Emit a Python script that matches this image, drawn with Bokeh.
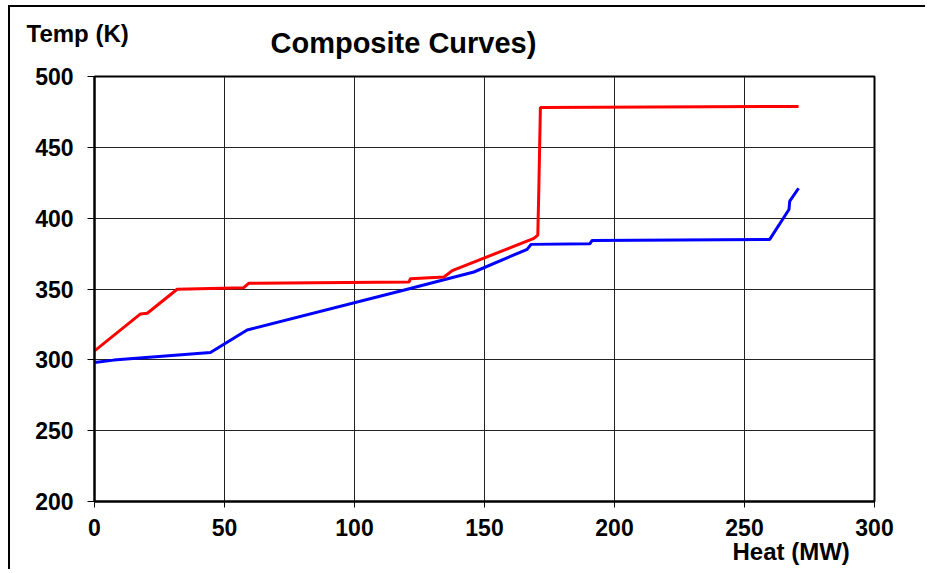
from bokeh.plotting import figure
from bokeh.models import Range1d, FixedTicker, ColumnDataSource, Title
from bokeh.embed import file_html
from bokeh.resources import INLINE

# Hot composite curve (red)
hot_q = [0, 17.7, 20.3, 31.8, 57.4, 59.3, 121.0, 121.5, 134.4, 137.6, 169.0, 170.5, 170.9, 171.5, 270.8]
hot_t = [306.3, 332.4, 332.9, 349.8, 350.9, 354.0, 354.9, 357.3, 358.5, 363.0, 385.7, 388.0, 421.0, 478.2, 478.9]

# Cold composite curve (blue)
cold_q = [0, 7.4, 44.6, 58.7, 117.7, 145.9, 166.4, 167.9, 190.5, 191.4, 259.7, 267.1, 267.4, 270.8]
cold_t = [298.1, 299.8, 305.2, 321.1, 348.6, 362.0, 378.0, 381.5, 381.9, 384.3, 385.0, 406.1, 412.0, 421.1]

x_ticks = [0, 50, 100, 150, 200, 250, 300]
y_ticks = [200, 250, 300, 350, 400, 450, 500]

title_text = "Composite Curves)"
x_label = "Heat (MW)"
y_label = "Temp (K)"

FONT = "Liberation Sans"

p = figure(width=917, height=564, output_backend="svg", toolbar_location=None,
           x_range=Range1d(0, 300), y_range=Range1d(200, 500),
           min_border_left=84, min_border_right=53, min_border_top=68, min_border_bottom=70,
           styles={"border-left": "2px solid black", "border-top": "2px solid black",
                   "margin-top": "5px", "margin-left": "8px"})

p.background_fill_color = "white"
p.border_fill_color = "white"
p.outline_line_color = "black"
p.outline_line_width = 2

for ax, ticks in ((p.xaxis[0], x_ticks), (p.yaxis[0], y_ticks)):
    ax.ticker = FixedTicker(ticks=ticks)
    ax.major_label_text_font = FONT
    ax.major_label_text_font_style = "bold"
    ax.major_label_text_font_size = "23px"
    ax.major_label_text_color = "black"
    ax.axis_line_color = "black"
    ax.axis_line_width = 2
    ax.major_tick_line_color = "black"
    ax.major_tick_line_width = 1
    ax.major_tick_in = 0
    ax.minor_tick_line_color = None

p.yaxis.major_tick_out = 7
p.yaxis.major_label_standoff = 14
p.xaxis.major_tick_out = 6
p.xaxis.major_label_standoff = 11

p.xgrid.ticker = FixedTicker(ticks=x_ticks)
p.ygrid.ticker = FixedTicker(ticks=y_ticks)
p.grid.grid_line_color = "#222222"
p.grid.grid_line_width = 1
p.grid.grid_line_alpha = 1

hot_src = ColumnDataSource(dict(q=hot_q, t=hot_t))
cold_src = ColumnDataSource(dict(q=cold_q, t=cold_t))
p.line("q", "t", source=cold_src, line_color="#0000ff", line_width=3)
p.line("q", "t", source=hot_src, line_color="#ff0000", line_width=3)

# main title slot: "Temp (K)" (outermost, top-left)
p.title.text = y_label
p.title.align = "left"
p.title.offset = -68
p.title.standoff = -78
p.title.text_font = FONT
p.title.text_font_style = "bold"
p.title.text_font_size = "24px"
p.title.text_color = "black"

p.add_layout(Title(text=title_text, align="left", offset=176, standoff=35, text_font=FONT,
                   text_font_style="bold", text_font_size="29px", text_color="black"), "above")

p.add_layout(Title(text=x_label, align="left", offset=638, standoff=-2, vertical_align="top",
                   text_font=FONT, text_font_style="bold", text_font_size="24px",
                   text_color="black"), "below")

open("out.html", "w").write(file_html(p, INLINE))
